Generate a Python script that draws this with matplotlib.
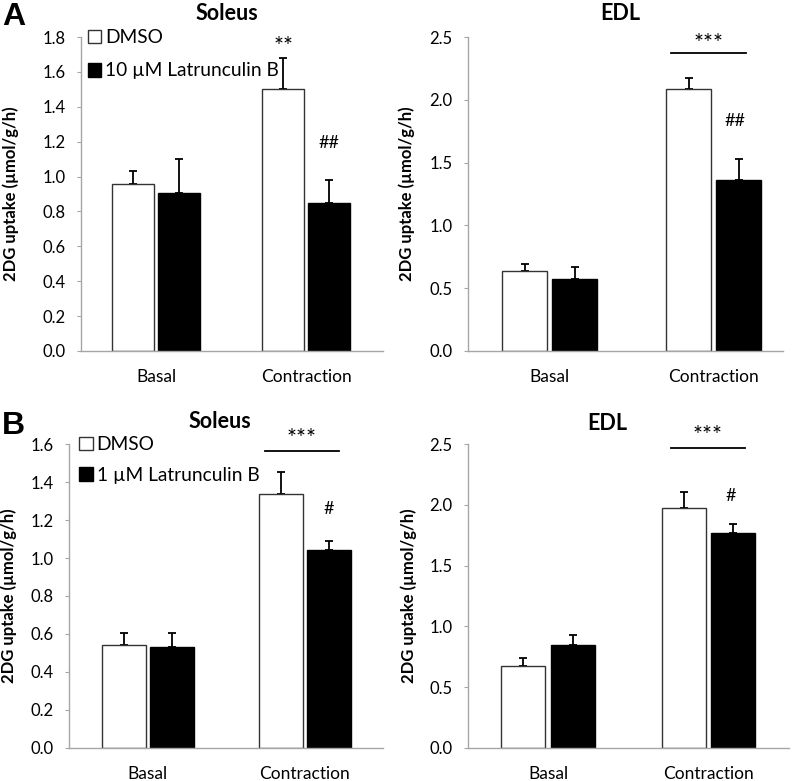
import matplotlib
matplotlib.use('Agg')
import matplotlib.pyplot as plt
from matplotlib.patches import Patch
import numpy as np

plt.rcParams['font.family'] = ['Lato', 'DejaVu Sans']

categories = ['Basal', 'Contraction']

# panel A, 10 uM latrunculin B
a_sol_dmso = [0.955, 1.50]
a_sol_dmso_err = [0.075, 0.18]
a_sol_lat = [0.905, 0.85]
a_sol_lat_err = [0.195, 0.128]

a_edl_dmso = [0.64, 2.086]
a_edl_dmso_err = [0.05, 0.085]
a_edl_lat = [0.57, 1.364]
a_edl_lat_err = [0.096, 0.162]

# panel B, 1 uM latrunculin B
b_sol_dmso = [0.543, 1.34]
b_sol_dmso_err = [0.06, 0.116]
b_sol_lat = [0.531, 1.043]
b_sol_lat_err = [0.072, 0.049]

b_edl_dmso = [0.67, 1.973]
b_edl_dmso_err = [0.072, 0.134]
b_edl_lat = [0.849, 1.769]
b_edl_lat_err = [0.08, 0.074]

W, H = 797, 781
fig = plt.figure(figsize=(W / 100, H / 100), dpi=100)

AXIS_GREY = '#a6a6a6'


def px_axes(x0, x1, ytop, ybot):
    return fig.add_axes([x0 / W, 1 - ybot / H, (x1 - x0) / W, (ybot - ytop) / H])


def panel(ax, dmso, dmso_err, lat, lat_err, ymax, ystep, xright, width, offset, lab_x):
    x = np.arange(len(categories))
    ax.bar(x - offset, dmso, width, color='white', edgecolor='#333333', linewidth=1.0, zorder=2)
    ax.bar(x + offset, lat, width, color='black', edgecolor='black', linewidth=1.0, zorder=2)
    ax.errorbar(x - offset, dmso, yerr=[np.zeros(len(dmso)), dmso_err], fmt='none',
                ecolor='black', elinewidth=1.3, capsize=3, capthick=1.3, zorder=1)
    ax.errorbar(x + offset, lat, yerr=[np.zeros(len(lat)), lat_err], fmt='none',
                ecolor='black', elinewidth=1.3, capsize=3, capthick=1.3, zorder=1)
    ax.set_xlim(-0.5, xright)
    ax.set_ylim(0, ymax)
    ax.set_yticks(np.arange(0, ymax + 1e-9, ystep))
    ax.yaxis.set_major_formatter(matplotlib.ticker.FormatStrFormatter('%.1f'))
    ax.set_xticks(x)
    ax.set_xticklabels(categories, fontsize=12.5)
    ax.tick_params(axis='x', length=0, pad=13)
    ax.tick_params(axis='y', length=3, width=0.8, color=AXIS_GREY, labelsize=12, pad=8)
    for s in ['top', 'right']:
        ax.spines[s].set_visible(False)
    for s in ['left', 'bottom']:
        ax.spines[s].set_color(AXIS_GREY)
        ax.spines[s].set_linewidth(1.0)
    ax.set_ylabel('2DG uptake (µmol/g/h)', fontsize=12, fontweight='bold')
    ax.yaxis.set_label_coords(lab_x, 0.5)


def stars(ax, x, y, text):
    ax.text(x, y, text, ha='center', va='center', fontsize=17, clip_on=False)


def hashes(ax, x, y, text):
    ax.text(x, y, text, ha='center', va='center', fontsize=13, clip_on=False)


def sig_line(ax, x0, x1, y, ty, text):
    ax.plot([x0, x1], [y, y], color='black', lw=1.3, clip_on=False)
    stars(ax, (x0 + x1) / 2, ty, text)


# A soleus
ax1 = px_axes(81, 383, 37, 351)
panel(ax1, a_sol_dmso, a_sol_dmso_err, a_sol_lat, a_sol_lat_err, 1.8, 0.2, 1.51, 0.28, 0.153, -0.205)
stars(ax1, 1 - 0.153, 1.745, '**')
hashes(ax1, 1 + 0.153, 1.19, '##')
ax1.legend(handles=[Patch(facecolor='white', edgecolor='#333333', label='DMSO'),
                    Patch(facecolor='black', edgecolor='black', label='10 µM Latrunculin B')],
           loc='upper left', bbox_to_anchor=(0.022, 1.025), frameon=False, fontsize=13.8,
           handlelength=0.72, handleheight=0.72, handletextpad=0.2, labelspacing=0.85,
           borderpad=0, borderaxespad=0)

# A EDL
ax2 = px_axes(467.7, 782.7, 37, 351)
panel(ax2, a_edl_dmso, a_edl_dmso_err, a_edl_lat, a_edl_lat_err, 2.5, 0.5, 1.42, 0.274, 0.152, -0.167)
sig_line(ax2, 0.742, 1.198, 2.37, 2.45, '***')
hashes(ax2, 1 + 0.13, 1.83, '##')

# B soleus
ax3 = px_axes(69.3, 383, 444.3, 747.7)
panel(ax3, b_sol_dmso, b_sol_dmso_err, b_sol_lat, b_sol_lat_err, 1.6, 0.2, 1.5, 0.28, 0.153, -0.167)
sig_line(ax3, 0.745, 1.218, 1.567, 1.633, '***')
hashes(ax3, 1 + 0.155, 1.26, '#')
ax3.legend(handles=[Patch(facecolor='white', edgecolor='#333333', label='DMSO'),
                    Patch(facecolor='black', edgecolor='black', label='1 µM Latrunculin B')],
           loc='upper left', bbox_to_anchor=(0.031, 1.027), frameon=False, fontsize=13.8,
           handlelength=0.72, handleheight=0.72, handletextpad=0.2, labelspacing=0.72,
           borderpad=0, borderaxespad=0)

# B EDL
ax4 = px_axes(467.7, 789, 444.3, 747.7)
panel(ax4, b_edl_dmso, b_edl_dmso_err, b_edl_lat, b_edl_lat_err, 2.5, 0.5, 1.5, 0.274, 0.153, -0.158)
sig_line(ax4, 0.764, 1.228, 2.47, 2.57, '***')
hashes(ax4, 1 + 0.14, 2.07, '#')

# titles and panel letters
for tx, ty, t in [(227, 14, 'Soleus'), (620, 14, 'EDL'), (220, 422, 'Soleus'), (607, 423, 'EDL')]:
    fig.text(tx / W, 1 - ty / H, t, ha='center', va='center', fontsize=15.5, fontweight='bold')
fig.text(2 / W, 1 - 25 / H, 'A', ha='left', va='baseline', fontsize=23, fontweight='bold',
         family=['Liberation Sans', 'DejaVu Sans'])
fig.text(2 / W, 1 - 434 / H, 'B', ha='left', va='baseline', fontsize=23, fontweight='bold',
         family=['Liberation Sans', 'DejaVu Sans'])

fig.savefig('out.png', dpi=100)
